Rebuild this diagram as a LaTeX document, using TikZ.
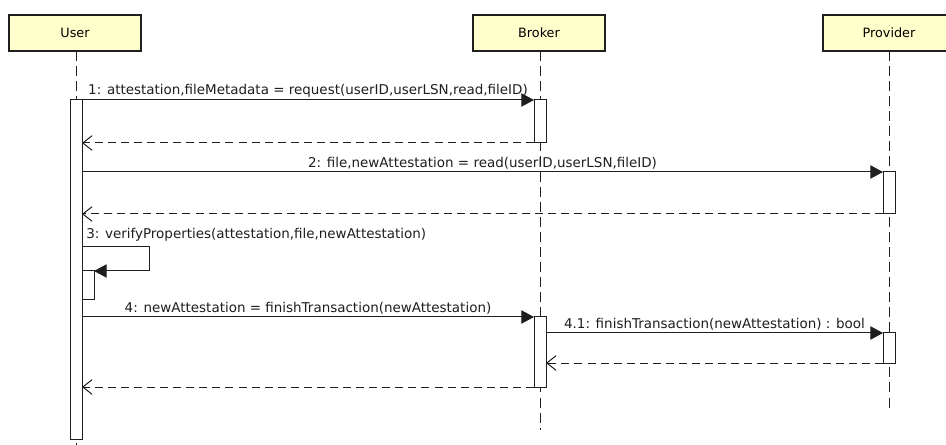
\documentclass[tikz,border=0pt]{standalone}
\usepackage{fontspec}
\setmainfont{DejaVu Sans}
\usetikzlibrary{arrows.meta}
\definecolor{boxfill}{RGB}{255,255,204}
\definecolor{ink}{RGB}{30,30,30}
\tikzset{
  actor/.style={draw=ink, line width=1.6pt, fill=boxfill, minimum width=99pt, minimum height=27pt, inner sep=0pt, outer sep=0pt, font=\fontsize{9.6}{11}\selectfont},
  bar/.style={draw=ink, line width=0.75pt, fill=white, minimum width=9pt, inner sep=0pt, outer sep=0pt},
  life/.style={draw=ink, line width=0.75pt, dash pattern=on 7.5pt off 3.8pt},
  call/.style={draw=ink, line width=0.75pt, -{Triangle[length=9.5pt,width=10pt]}},
  ret/.style={draw=ink, line width=0.75pt, dash pattern=on 6pt off 3.8pt, -{Straight Barb[length=7pt,width=11pt,line width=0.75pt]}},
  lbl/.style={inner sep=1.5pt, font=\fontsize{10.1}{12}\selectfont, text=ink}
}
\begin{document}
\begin{tikzpicture}[x=0.75pt,y=-0.75pt]
\clip (0,0) rectangle (946,445);
\fill[white] (0,0) rectangle (946,445);
% actors
\node[actor] (user) at (75,33) {User};
\node[actor] (broker) at (539,33) {Broker};
\node[actor] (provider) at (889,33) {Provider};
% lifeline ends
\coordinate (uend) at (76,445);
\coordinate (bend) at (540,430);
\coordinate (pend) at (889,408);
\draw[life] (user.south -| uend) -- (uend);
\draw[life] (broker.south -| bend) -- (bend);
\draw[life] (provider.south -| pend) -- (pend);
% activation bars
\node[bar, minimum height=254.25pt] (ub) at (76,269.5) {};
\node[bar, minimum height=32.25pt] (bb1) at (540,121.5) {};
\node[bar, minimum height=31.5pt] (pb1) at (889,193) {};
\node[bar, minimum height=21.75pt] (nb) at (88,285.5) {};
\node[bar, minimum height=52.5pt] (bb2) at (540,352) {};
\node[bar, minimum height=22.5pt] (pb2) at (889,348) {};
% message 1
\draw[call] (ub.east |- bb1.north) -- node[lbl, above] (l1) {1: attestation,fileMetadata = request(userID,userLSN,read,fileID)} (bb1.north west);
\draw[ret] (bb1.south west) -- (ub.east |- bb1.south);
% message 2
\draw[call] (ub.east |- pb1.north) -- node[lbl, above] (l2) {2: file,newAttestation = read(userID,userLSN,fileID)} (pb1.north west);
\draw[ret] (pb1.south west) -- (ub.east |- pb1.south);
% message 3 (self call)
\coordinate (s1) at (82,247);
\coordinate (s2) at (149,247);
\coordinate (s3) at (149,271);
\node[lbl, anchor=south west] (l3) at (84,244) {3: verifyProperties(attestation,file,newAttestation)};
\draw[call] (s1) -- (s2) -- (s3) -- (nb.north east);
% message 4
\draw[call] (ub.east |- bb2.north) -- node[lbl, above] (l4) {4: newAttestation = finishTransaction(newAttestation)} (bb2.north west);
% message 4.1
\draw[call] (bb2.east |- pb2.north) -- node[lbl, above] (l41) {4.1: finishTransaction(newAttestation) : bool} (pb2.north west);
\draw[ret] (pb2.south west) -- (bb2.east |- pb2.south);
\draw[ret] (bb2.south west) -- (ub.east |- bb2.south);
\end{tikzpicture}
\end{document}
